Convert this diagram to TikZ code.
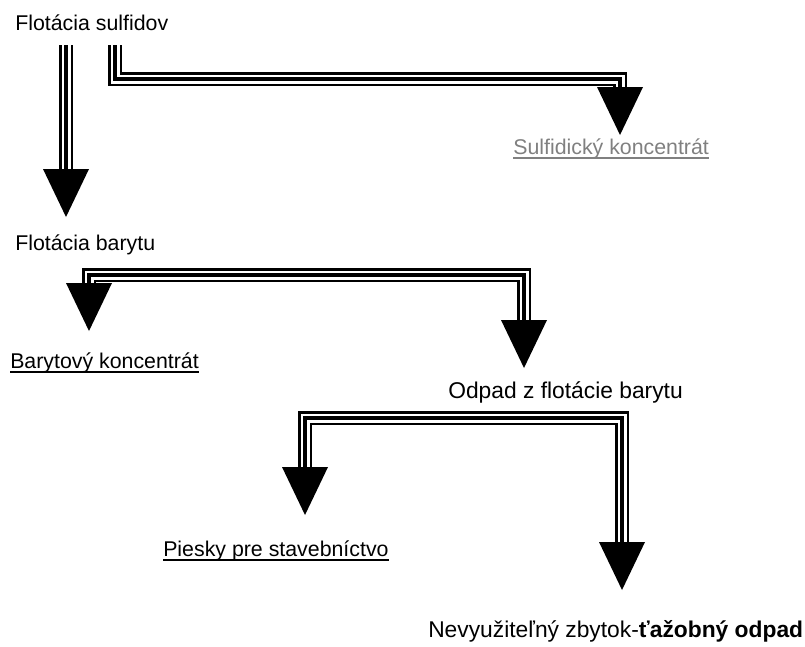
\documentclass[tikz,border=0pt]{standalone}
\usepackage{fontspec}
\setmainfont{Liberation Sans}
\definecolor{kongray}{HTML}{808080}
\begin{document}
\begin{tikzpicture}[x=0.75pt,y=-0.75pt,
  lbl/.style={font=\fontsize{16}{19}\selectfont, inner sep=0pt, anchor=base west},
  wide/.style={font=\fontsize{17.1}{20}\selectfont},
  triple/.style={line width=10.5pt, line join=miter,
    postaction={draw, white, line width=6.75pt},
    postaction={draw, black, line width=3pt}},
  ulline/.style={line width=1.1pt},
  head/.pic={\fill (-23,0) -- (23,0) -- (0,48) -- cycle;}]
  \useasboundingbox (0,0) rectangle (805,646);

  \node[lbl] (sulf) at (15,30) {Flotácia sulfidov};
  \node[lbl, text=kongray] (sulfk) at (513,154) {Sulfidický koncentrát};
  \node[lbl] (bar) at (15,250) {Flotácia barytu};
  \node[lbl] (bark) at (10,368) {Barytový koncentrát};
  \node[lbl, wide] (odp) at (448,398) {Odpad z flotácie barytu};
  \node[lbl] (pies) at (163,556) {Piesky pre stavebníctvo};
  \node[lbl, wide] (zbyt) at (428,637) {Nevyužiteľný zbytok-\textbf{ťažobný odpad}};

  % podciarknutie
  \draw[ulline, kongray] ([yshift=-3pt]sulfk.base west) -- ([yshift=-3pt]sulfk.base east);
  \foreach \n in {bark,pies}
    \draw[ulline] ([yshift=-3pt]\n.base west) -- ([yshift=-3pt]\n.base east);

  % sipky
  \coordinate (sA) at (66,45);   \coordinate (hA) at (66,169);
  \coordinate (sB) at (115,45);  \coordinate (hB) at (620,87);
  \coordinate (hC) at (89,283);  \coordinate (hD) at (524,320);
  \coordinate (hE) at (305,467); \coordinate (hF) at (622,542);
  \draw[triple] (sA) -- (hA);
  \draw[triple] (sB) |- (620,79) -- (hB);
  \draw[triple] (hC) -- (89,275) -| (hD);
  \draw[triple] (hE) |- (622,418) -- (hF);
  \foreach \h in {hA,hB,hC,hD,hE,hF}
    \pic at (\h) {head};
\end{tikzpicture}
\end{document}
